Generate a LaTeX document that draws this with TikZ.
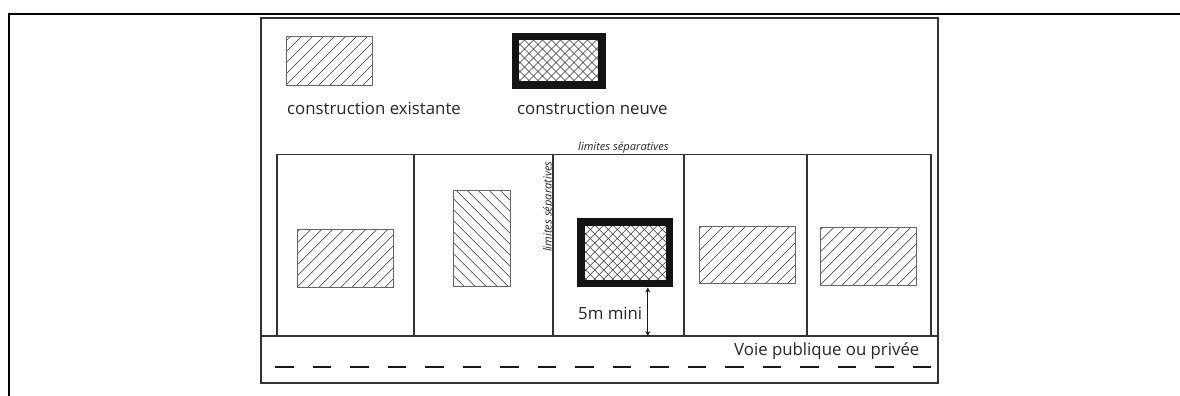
\documentclass[tikz,border=0pt]{standalone}
\usepackage{fontspec}
\setmainfont{Open Sans}
\usetikzlibrary{arrows.meta}
\tikzset{
	plan/.style={line width=1.35pt,draw=black!80},
	hatchline/.style={line width=.6pt,draw=black!80},
	legend/.style={anchor=base west,inner sep=0pt,text=black!85,font=\fontsize{16.8}{18}\selectfont},
	limit/.style={inner sep=0pt,text=black!85,font=\fontsize{11.1}{13}\selectfont\itshape},
}
% corners, direction (1 or -1), spacing
\newcommand{\hatch}[6]{%
	\begin{scope}
		\clip (#1,#2) rectangle (#3,#4);
		\foreach \k in {-20,...,20}
		\draw[hatchline] (#1+\k*#6,#4) -- ++(#5*120,-120);
	\end{scope}
}
\newcommand{\oldhouse}[5]{%
	\hatch{#1}{#2}{#3}{#4}{#5}{11}
	\draw[line width=1pt,draw=black!60] (#1,#2) rectangle (#3,#4);
}
\newcommand{\newhouse}[4]{%
	\hatch{#1}{#2}{#3}{#4}{1}{9}
	\hatch{#1}{#2}{#3}{#4}{-1}{9}
	\draw[line width=7.6pt,draw=black!92] (#1,#2) rectangle (#3,#4);
}
\begin{document}
\begin{tikzpicture}[x=1pt,y=-1pt,line join=miter]
	\useasboundingbox (0,0) rectangle (1180,396);
	\path
	(647.8,287.5) coordinate (houseB)
	(647.8,336) coordinate (roadT)
	;
	\draw[line width=2.6pt,black] (9,396) -- (9,14) -- (1180,14);
	\draw[plan] (261,18) rectangle (938,383);
	\draw[plan] (261,336) -- (938,336);
	\draw[plan] (277,336) |- (931,154.5) -- (931,336);
	\foreach \x in {414,553,684,807}
	\draw[plan] (\x,154.5) -- (\x,336);
	\foreach \k in {0,...,17}
	\draw[line width=1.4pt,black!90] (275+\k*37.5,367) -- ++(18.7,0);
	\oldhouse{286}{37}{372}{85}{1}
	\newhouse{515.5}{36.7}{601.8}{85}
	\oldhouse{297.3}{229.3}{393.3}{287}{1}
	\oldhouse{453}{190.7}{510.7}{286.3}{-1}
	\newhouse{581.2}{222.2}{669.5}{283.5}
	\oldhouse{699.3}{226.3}{795.7}{283.7}{1}
	\oldhouse{820.3}{227.3}{916.7}{285}{1}
	\draw[{Stealth[length=5pt,width=5pt]}-{Stealth[length=5pt,width=5pt]},line width=1.2pt,black!90] (houseB) -- (roadT);
	\node[legend] (existing) at (287,114) {construction existante};
	\node[legend] (new) at (517,114) {construction neuve};
	\node[legend] (dist) at (578,319) {5m mini};
	\node[legend] (road) at (734,355) {Voie publique ou privée};
	\node[limit,anchor=base west] (limH) at (578,150) {limites séparatives};
	\node[limit,anchor=base west,rotate=90] (limV) at (551.5,252) {limites séparatives};
\end{tikzpicture}
\end{document}
